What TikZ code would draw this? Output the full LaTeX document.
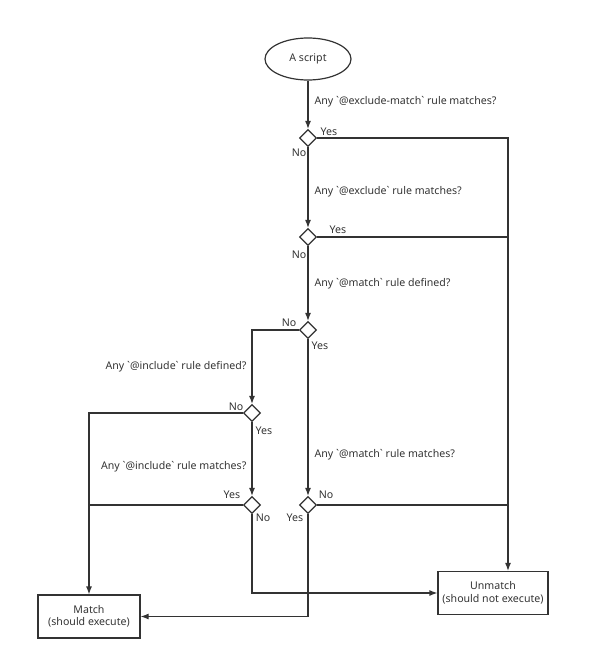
\documentclass[tikz,border=0pt]{standalone}
\usepackage{fontspec}
\setmainfont{Noto Sans}
\usetikzlibrary{shapes.geometric,arrows.meta}
\definecolor{ink}{HTML}{333333}
\newcommand{\tick}{\textasciigrave}
\begin{document}
\begin{tikzpicture}[x=1pt,y=-1pt,line width=1.2pt,color=ink,
    font=\fontsize{10.6}{12.5}\selectfont,
    decision/.style={diamond,draw,inner sep=0pt,minimum size=17pt,fill=white},
    terminal/.style={ellipse,draw,minimum width=86pt,minimum height=42pt},
    result/.style={rectangle,draw,minimum height=43pt,align=center},
    flow/.style={-{Latex[length=8pt,width=6pt]}},
    question/.style={inner sep=0pt}]
    \useasboundingbox (0,0) rectangle (600,664);
    % start and results
    \node[terminal] (start) at (308,59) {A script};
    \node[result,minimum width=102pt] (match) at (89,616.5) {Match\\(should execute)};
    \node[result,minimum width=110pt] (unmatch) at (493,593) {Unmatch\\(should not execute)};
    \coordinate (rail) at (508,138);
    % decisions
    \node[decision] (exm) at (308,138) {};
    \node[decision] (exc) at (308,237) {};
    \node[decision] (mdef) at (308,330) {};
    \node[decision] (idef) at (252,413) {};
    \node[decision] (imat) at (252,505) {};
    \node[decision] (mmat) at (308,505) {};
    % questions
    \node[question,anchor=west] (qexm) at (314,102) {Any \tick@exclude-match\tick{} rule matches?};
    \node[question,anchor=west] (qexc) at (314,192) {Any \tick@exclude\tick{} rule matches?};
    \node[question,anchor=west] (qmdef) at (314,284) {Any \tick@match\tick{} rule defined?};
    \node[question,anchor=east] (qidef) at (247,367) {Any \tick@include\tick{} rule defined?};
    \node[question,anchor=east] (qimat) at (247,467) {Any \tick@include\tick{} rule matches?};
    \node[question,anchor=west] (qmmat) at (314,455) {Any \tick@match\tick{} rule matches?};
    % answers
    \node (exmyes) at (329,132) {Yes};
    \node (exmno) at (299,153) {No};
    \node (excyes) at (338,230) {Yes};
    \node (excno) at (299,255) {No};
    \node (mdefno) at (289,323) {No};
    \node (mdefyes) at (320,346) {Yes};
    \node (idefno) at (236,407) {No};
    \node (idefyes) at (264,431) {Yes};
    \node (imatyes) at (232,495) {Yes};
    \node (imatno) at (263,518) {No};
    \node (mmatno) at (326,495) {No};
    \node (mmatyes) at (295,518) {Yes};
    % connectors
    \draw[flow] (start) -- (exm);
    \draw[flow] (exm) -- (exc);
    \draw[flow] (exc) -- (mdef);
    \draw[flow] (exm.east) -| ([xshift=15pt]unmatch.north);
    \draw (exc.east) -- (exc.east -| rail);
    \draw[flow] (mdef.west) -| (idef.north);
    \draw[flow] (mdef) -- (mmat);
    \draw[flow] (idef.west) -| (match.north);
    \draw[flow] (idef) -- (imat);
    \draw (imat.west) -- (imat.west -| match.north);
    \draw (mmat.east) -- (mmat.east -| rail);
    \draw[flow] (imat.south) |- (unmatch.west);
    \draw[flow] (mmat.south) |- (match.east);
\end{tikzpicture}
\end{document}
